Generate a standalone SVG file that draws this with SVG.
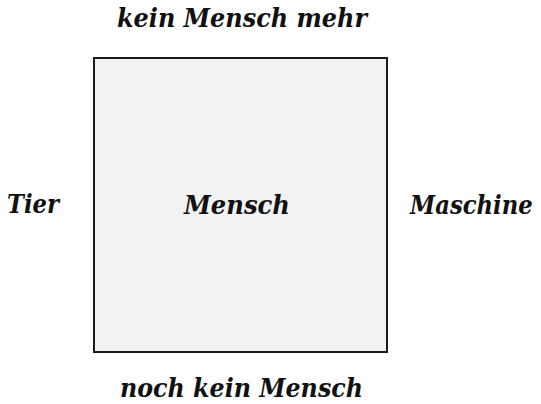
<svg xmlns="http://www.w3.org/2000/svg" width="541" height="404" viewBox="0 0 541 404">
<style>
text{font-family:"DejaVu Serif","Liberation Serif",serif;font-weight:bold;font-style:italic;font-size:26px;fill:#111}
.box{fill:#f2f2f2;stroke:#1a1a1a;stroke-width:2}
</style>
<rect width="541" height="404" fill="#fff"/>
<g id="mensch">
<rect class="box" x="94" y="58" width="293" height="294"/>
<text x="184" y="214" textLength="106" lengthAdjust="spacingAndGlyphs">Mensch</text>
</g>
<g id="kein-mensch-mehr"><text x="117" y="27" textLength="250" lengthAdjust="spacingAndGlyphs">kein Mensch mehr</text></g>
<g id="noch-kein-mensch"><text x="120" y="397" font-size="25" textLength="243" lengthAdjust="spacingAndGlyphs">noch kein Mensch</text></g>
<g id="tier"><text x="7" y="213" textLength="52" lengthAdjust="spacingAndGlyphs">Tier</text></g>
<g id="maschine"><text transform="translate(410,214) scale(0.875,1)" x="0" y="0" font-size="25">Maschine</text></g>
<g id="connectors"/>
</svg>
